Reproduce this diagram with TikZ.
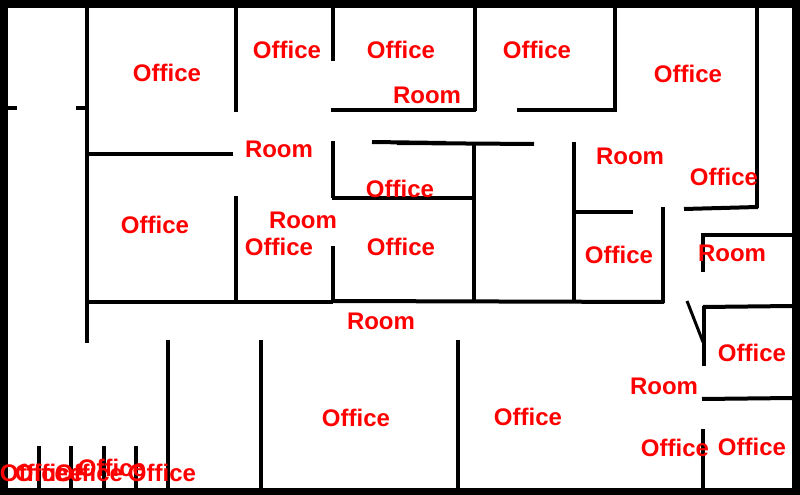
\documentclass[tikz,border=0pt]{standalone}
\usepackage{fontspec}
\setmainfont{Liberation Sans}
\tikzset{every picture/.style={line width=0.75pt}}
\tikzset{
  wall/.style={line width=3pt,black},
  label/.style={text=red,font=\fontsize{18}{18}\selectfont\bfseries,inner sep=0pt}
}
\begin{document}
\begin{tikzpicture}[x=0.75pt,y=0.75pt,yscale=-1,xscale=1]
	\useasboundingbox (0,0) rectangle (800,495);

	%Outer frame
	\draw [line width=6pt] (4,4) rectangle (796,492);

	%Left part
	\draw [wall] (87,8) -- (87,343);
	\draw [wall] (8,108) -- (17,108);
	\draw [wall] (76,108) -- (87,108);
	\draw [wall] (87,154) -- (233,154);
	\draw [wall] (87,302) -- (333,302);
	\draw [wall] (333,301) -- (664,302);

	%Upper rooms
	\draw [wall] (235.5,8) -- (235.5,112);
	\draw [wall] (235.5,196) -- (235.5,302);
	\draw [wall] (333,8) -- (333,61);
	\draw [wall] (331,110.5) -- (476,110.5);
	\draw [wall] (474.5,8) -- (474.5,111);
	\draw [wall] (517,110.5) -- (615,110.5);
	\draw [wall] (615,8) -- (615,112);
	\draw [wall] (757,8) -- (757,208);
	\draw [wall] (684,209) -- (758,207);

	%Centre rooms
	\draw [wall] (333,141) -- (333,198);
	\draw [wall] (332,198) -- (474,198);
	\draw [wall] (372,142) -- (446,143);
	\draw [wall] (397,143) -- (534,144);
	\draw [wall] (474,144) -- (474,302);
	\draw [wall] (333,246) -- (333,302);
	\draw [wall] (573.5,142) -- (573.5,302);
	\draw [wall] (574,212) -- (633,212);
	\draw [wall] (663,207) -- (663,303);

	%Right rooms
	\draw [wall] (701,235) -- (793,235);
	\draw [wall] (702.5,235) -- (702.5,272);
	\draw [wall] (703,307) -- (793,306);
	\draw [wall] (703.5,306) -- (703.5,366);
	\draw [line width=2.25pt] (687,301) -- (703,342);
	\draw [wall] (702,399) -- (793,398);
	\draw [wall] (703,429) -- (703,488);

	%Lower rooms
	\draw [wall] (168,340) -- (168,488);
	\draw [wall] (261,340) -- (261,488);
	\draw [wall] (458,340) -- (458,488);
	\draw [wall] (38.5,446) -- (38.5,488);
	\draw [wall] (71,446) -- (71,488);
	\draw [wall] (103.5,446) -- (103.5,488);
	\draw [wall] (136,446) -- (136,488);

	%Labels
	\node [label] (office1) at (167,73) {Office};
	\node [label] (office2) at (287,50) {Office};
	\node [label] (office3) at (401,50) {Office};
	\node [label] (office4) at (537,50) {Office};
	\node [label] (office5) at (688,74) {Office};
	\node [label] (office6) at (724,177) {Office};
	\node [label] (office7) at (400,189) {Office};
	\node [label] (office8) at (155,225) {Office};
	\node [label] (office9) at (279,247) {Office};
	\node [label] (office10) at (401,247) {Office};
	\node [label] (office11) at (619,255) {Office};
	\node [label] (office12) at (752,353) {Office};
	\node [label] (office13) at (356,418) {Office};
	\node [label] (office14) at (528,417) {Office};
	\node [label] (office15) at (675,448) {Office};
	\node [label] (office16) at (752,447) {Office};
	\node [label] (office17) at (34,473) {Office};
	\node [label] (office18) at (49,473) {Office};
	\node [label] (office19) at (89,473) {Office};
	\node [label] (office20) at (112,468) {Office};
	\node [label] (office21) at (162,473) {Office};
	\node [label] (room1) at (427,95) {Room};
	\node [label] (room2) at (279,149) {Room};
	\node [label] (room3) at (630,156) {Room};
	\node [label] (room4) at (303,220) {Room};
	\node [label] (room5) at (732,253) {Room};
	\node [label] (room6) at (381,321) {Room};
	\node [label] (room7) at (664,386) {Room};
\end{tikzpicture}
\end{document}
